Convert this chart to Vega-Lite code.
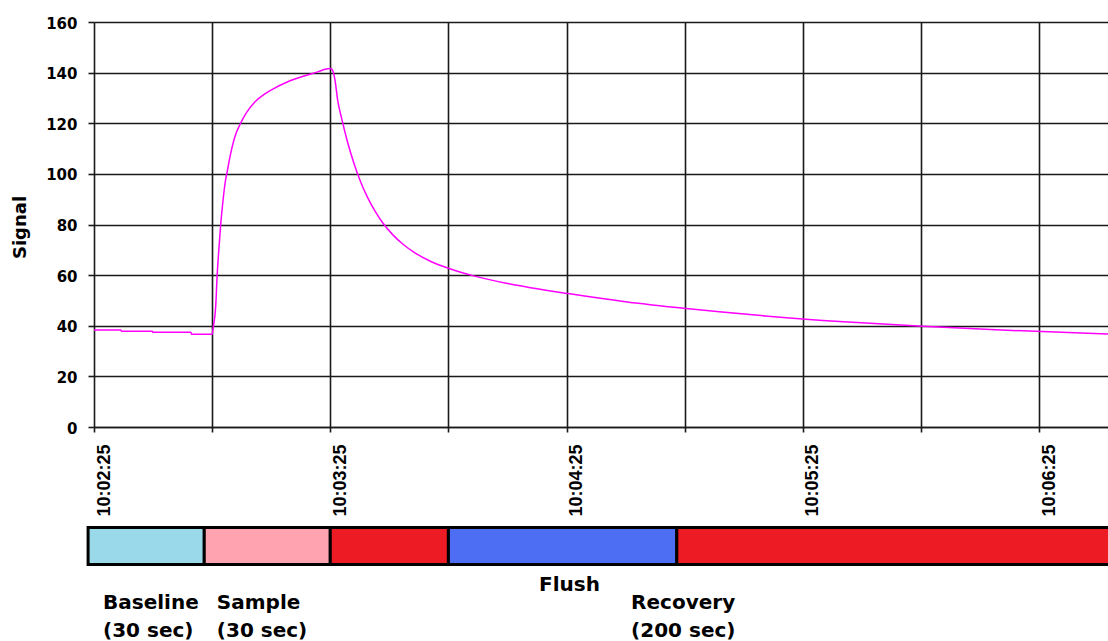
{
  "$schema": "https://vega.github.io/schema/vega-lite/v6.json",
  "width": 1014,
  "height": 405,
  "autosize": {"type": "none"},
  "padding": {"left": 94, "top": 22, "right": 0, "bottom": 214},
  "background": "white",
  "config": {"view": {"stroke": null}},
  "datasets": {
    "signal": [
      {"time": "2024-01-01T10:02:25", "signal": 38.3},
      {"time": "2024-01-01T10:02:31.8", "signal": 38.3},
      {"time": "2024-01-01T10:02:32", "signal": 37.8},
      {"time": "2024-01-01T10:02:39.8", "signal": 37.8},
      {"time": "2024-01-01T10:02:40", "signal": 37.4},
      {"time": "2024-01-01T10:02:49.6", "signal": 37.4},
      {"time": "2024-01-01T10:02:49.8", "signal": 36.6},
      {"time": "2024-01-01T10:02:55", "signal": 36.6},
      {"time": "2024-01-01T10:02:55.3", "signal": 39.6},
      {"time": "2024-01-01T10:02:55.9", "signal": 47.5},
      {"time": "2024-01-01T10:02:56.3", "signal": 60.7},
      {"time": "2024-01-01T10:02:56.7", "signal": 69.9},
      {"time": "2024-01-01T10:02:57.2", "signal": 80.5},
      {"time": "2024-01-01T10:02:57.6", "signal": 87},
      {"time": "2024-01-01T10:02:58.3", "signal": 96.5},
      {"time": "2024-01-01T10:02:58.9", "signal": 101.5},
      {"time": "2024-01-01T10:02:59.5", "signal": 106.5},
      {"time": "2024-01-01T10:03:00.8", "signal": 114.8},
      {"time": "2024-01-01T10:03:02.1", "signal": 119.6},
      {"time": "2024-01-01T10:03:03.8", "signal": 124.4},
      {"time": "2024-01-01T10:03:05.9", "signal": 128.5},
      {"time": "2024-01-01T10:03:08.4", "signal": 131.6},
      {"time": "2024-01-01T10:03:11", "signal": 134},
      {"time": "2024-01-01T10:03:13.5", "signal": 135.9},
      {"time": "2024-01-01T10:03:16", "signal": 137.5},
      {"time": "2024-01-01T10:03:18.6", "signal": 138.8},
      {"time": "2024-01-01T10:03:22", "signal": 140.4},
      {"time": "2024-01-01T10:03:23.7", "signal": 141.3},
      {"time": "2024-01-01T10:03:25", "signal": 141.6},
      {"time": "2024-01-01T10:03:25.4", "signal": 141.4},
      {"time": "2024-01-01T10:03:25.8", "signal": 140},
      {"time": "2024-01-01T10:03:26.2", "signal": 137},
      {"time": "2024-01-01T10:03:26.9", "signal": 128.9},
      {"time": "2024-01-01T10:03:27.9", "signal": 121.8},
      {"time": "2024-01-01T10:03:29.4", "signal": 112.5},
      {"time": "2024-01-01T10:03:30.9", "signal": 104.7},
      {"time": "2024-01-01T10:03:32.4", "signal": 98.1},
      {"time": "2024-01-01T10:03:34.4", "signal": 90.9},
      {"time": "2024-01-01T10:03:36.4", "signal": 85.2},
      {"time": "2024-01-01T10:03:38.4", "signal": 80.5},
      {"time": "2024-01-01T10:03:40.9", "signal": 75.9},
      {"time": "2024-01-01T10:03:43.4", "signal": 72.3},
      {"time": "2024-01-01T10:03:46.4", "signal": 68.9},
      {"time": "2024-01-01T10:03:50.4", "signal": 65.5},
      {"time": "2024-01-01T10:03:55.4", "signal": 62.5},
      {"time": "2024-01-01T10:04:01.4", "signal": 59.7},
      {"time": "2024-01-01T10:04:10.4", "signal": 56.6},
      {"time": "2024-01-01T10:04:25.4", "signal": 52.7},
      {"time": "2024-01-01T10:04:40.4", "signal": 49.4},
      {"time": "2024-01-01T10:04:55.4", "signal": 46.8},
      {"time": "2024-01-01T10:05:15.4", "signal": 43.9},
      {"time": "2024-01-01T10:05:35.4", "signal": 41.6},
      {"time": "2024-01-01T10:05:55.4", "signal": 39.8},
      {"time": "2024-01-01T10:06:15.4", "signal": 38.3},
      {"time": "2024-01-01T10:06:42.5", "signal": 36.7}
    ],
    "phases": [
      {"time": "2024-01-01T10:02:23.5", "end": "2024-01-01T10:02:53", "phase": "Baseline"},
      {"time": "2024-01-01T10:02:53", "end": "2024-01-01T10:03:25", "phase": "Sample"},
      {"time": "2024-01-01T10:03:25", "end": "2024-01-01T10:03:55", "phase": "Rinse"},
      {"time": "2024-01-01T10:03:55", "end": "2024-01-01T10:04:53", "phase": "Flush"},
      {"time": "2024-01-01T10:04:53", "end": "2024-01-01T10:06:45", "phase": "Recovery"}
    ],
    "labels": [
      {"time": "2024-01-01T10:02:27.3", "text": "Baseline\n(30 sec)", "tier": "lower"},
      {"time": "2024-01-01T10:02:56.2", "text": "Sample\n(30 sec)", "tier": "lower"},
      {"time": "2024-01-01T10:04:18", "text": "Flush", "tier": "upper"},
      {"time": "2024-01-01T10:04:41.4", "text": "Recovery\n(200 sec)", "tier": "lower"}
    ]
  },
  "encoding": {
    "x": {
      "field": "time",
      "type": "temporal",
      "scale": {
        "domain": [
          {"year": 2024, "month": 1, "date": 1, "hours": 10, "minutes": 2, "seconds": 25},
          {"year": 2024, "month": 1, "date": 1, "hours": 10, "minutes": 6, "seconds": 42, "milliseconds": 500}
        ],
        "nice": false
      },
      "axis": {
        "title": null,
        "values": [
          {"year": 2024, "month": 1, "date": 1, "hours": 10, "minutes": 2, "seconds": 25},
          {"year": 2024, "month": 1, "date": 1, "hours": 10, "minutes": 2, "seconds": 55},
          {"year": 2024, "month": 1, "date": 1, "hours": 10, "minutes": 3, "seconds": 25},
          {"year": 2024, "month": 1, "date": 1, "hours": 10, "minutes": 3, "seconds": 55},
          {"year": 2024, "month": 1, "date": 1, "hours": 10, "minutes": 4, "seconds": 25},
          {"year": 2024, "month": 1, "date": 1, "hours": 10, "minutes": 4, "seconds": 55},
          {"year": 2024, "month": 1, "date": 1, "hours": 10, "minutes": 5, "seconds": 25},
          {"year": 2024, "month": 1, "date": 1, "hours": 10, "minutes": 5, "seconds": 55},
          {"year": 2024, "month": 1, "date": 1, "hours": 10, "minutes": 6, "seconds": 25}
        ],
        "format": "%H:%M:%S",
        "labelExpr": "seconds(datum.value) == 25 ? datum.label : ''",
        "labelAngle": -90,
        "labelAlign": "right",
        "labelBaseline": "top",
        "labelOffset": 1,
        "labelPadding": 12,
        "labelFont": "Liberation Sans",
        "labelFontWeight": "bold",
        "labelFontSize": 18,
        "labelColor": "black",
        "labelOverlap": false,
        "labelFlush": false,
        "tickSize": 5,
        "tickColor": "#1a1a1a",
        "tickWidth": 1.6,
        "grid": true,
        "gridColor": "#1a1a1a",
        "gridWidth": 1.6,
        "gridOpacity": 1,
        "domainColor": "#1a1a1a",
        "domainWidth": 1.6
      }
    }
  },
  "layer": [
    {
      "data": {"name": "signal"},
      "mark": {"type": "line", "color": "#FF00FF", "strokeWidth": 1.5, "interpolate": "monotone"},
      "encoding": {
        "y": {
          "field": "signal",
          "type": "quantitative",
          "scale": {"domain": [0, 160], "nice": false, "zero": false},
          "axis": {
            "title": "Signal",
            "titleFont": "DejaVu Sans",
            "titleFontWeight": "bold",
            "titleFontSize": 18,
            "titleColor": "black",
            "titleAngle": -90,
            "titleX": -74,
            "titleY": 205,
            "titleAlign": "center",
            "titleBaseline": "middle",
            "values": [0, 20, 40, 60, 80, 100, 120, 140, 160],
            "labelFont": "DejaVu Sans",
            "labelFontWeight": "bold",
            "labelFontSize": 15,
            "labelColor": "black",
            "labelPadding": 11,
            "labelOffset": 1,
            "labelFlush": false,
            "tickSize": 6,
            "tickColor": "#1a1a1a",
            "tickWidth": 1.6,
            "grid": true,
            "gridColor": "#1a1a1a",
            "gridWidth": 1.6,
            "gridOpacity": 1,
            "domain": false
          }
        }
      }
    },
    {
      "data": {"name": "phases"},
      "mark": {"type": "rect", "stroke": "black", "strokeWidth": 3},
      "encoding": {
        "x2": {"field": "end"},
        "y": {"datum": -39.7, "type": "quantitative"},
        "y2": {"datum": -54.3},
        "fill": {
          "field": "phase",
          "type": "nominal",
          "scale": {
            "domain": ["Baseline", "Sample", "Rinse", "Flush", "Recovery"],
            "range": ["#99D9EA", "#FFA3B1", "#ED1C24", "#4D6DF3", "#ED1C24"]
          },
          "legend": null
        }
      }
    },
    {
      "data": {"name": "labels"},
      "transform": [{"filter": "datum.tier == 'lower'"}],
      "mark": {"type": "text", "align": "left", "baseline": "alphabetic", "font": "DejaVu Sans", "fontWeight": "bold", "fontSize": 20, "lineBreak": "\n", "lineHeight": 28, "color": "black"},
      "encoding": {
        "y": {"datum": -71.9, "type": "quantitative"},
        "text": {"field": "text"}
      }
    },
    {
      "data": {"name": "labels"},
      "transform": [{"filter": "datum.tier == 'upper'"}],
      "mark": {"type": "text", "align": "left", "baseline": "alphabetic", "font": "DejaVu Sans", "fontWeight": "bold", "fontSize": 20, "color": "black"},
      "encoding": {
        "y": {"datum": -64.7, "type": "quantitative"},
        "text": {"field": "text"}
      }
    }
  ]
}
